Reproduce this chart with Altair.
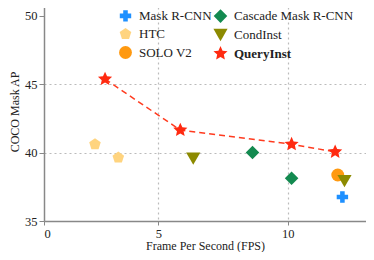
import altair as alt
import pandas as pd

methods = ["Mask R-CNN", "HTC", "SOLO V2", "Cascade Mask R-CNN", "CondInst", "QueryInst"]
colors = ["#1E90FF", "#FFD47F", "#FF9910", "#138A50", "#8C8A00", "#FF2A10"]
sizes = [130, 220, 150, 150, 144, 950]
star = "M0,-1L0.276,-0.38L0.951,-0.309L0.447,0.145L0.588,0.809L0,0.47L-0.588,0.809L-0.447,0.145L-0.951,-0.309L-0.276,-0.38Z"
pentagon = "M0,-1L0.951,-0.309L0.588,0.809L-0.588,0.809L-0.951,-0.309Z"
shapes = ["cross", pentagon, "circle", "diamond", "triangle-down", star]

pt_method = ["HTC", "HTC", "CondInst", "Cascade Mask R-CNN", "Cascade Mask R-CNN",
             "SOLO V2", "CondInst", "Mask R-CNN",
             "QueryInst", "QueryInst", "QueryInst", "QueryInst"]
pt_fps = [2.23, 3.25, 6.35, 8.64, 10.15, 11.93, 12.19, 12.11, 2.67, 5.85, 10.15, 11.83]
pt_ap = [40.61, 39.63, 39.56, 40.0, 38.12, 38.36, 37.92, 36.75, 45.37, 41.64, 40.61, 40.05]

df = pd.DataFrame({"method": pt_method, "fps": pt_fps, "ap": pt_ap, "order": list(range(len(pt_fps)))})
line_df = df[df["method"] == "QueryInst"]

font = "Liberation Serif"
xscale = alt.Scale(domain=[0, 5, 10, 13.02], range=[0, 114.3, 243.7, 322], nice=False)
yscale = alt.Scale(domain=[35, 51], nice=False, zero=False)

xaxis = alt.Axis(values=[0, 5, 10], title="Frame Per Second (FPS)", grid=True,
                 gridDash=[2, 3], gridColor="#bbbbbb", gridWidth=1.2,
                 gridOpacity={"condition": {"test": "datum.value == 0", "value": 0}, "value": 1},
                 domainColor="#888888", domainWidth=1.5, tickColor="#888888", tickSize=4,
                 labelFont=font, labelFontSize=12.5, labelColor="#222", titleFont=font,
                 titleFontSize=12, titleFontWeight="normal", titleColor="#222", labelPadding=2, titlePadding=1)
yaxis = alt.Axis(values=[35, 40, 45, 50], title="COCO Mask AP", grid=True,
                 gridDash=[2, 3], gridColor="#bbbbbb", gridWidth=1.2,
                 gridOpacity={"condition": {"test": "datum.value == 50 || datum.value == 35", "value": 0}, "value": 1},
                 domainColor="#888888", domainWidth=1.5, tickColor="#888888", tickSize=5,
                 labelFont=font, labelFontSize=12.5, labelColor="#222", titleFont=font,
                 titleFontSize=12, titleFontWeight="normal", titleColor="#222", labelPadding=2, titlePadding=3)

line = alt.Chart(line_df).mark_line(color="#FF3B1F", strokeDash=[6, 4], strokeWidth=1.5).encode(
    x=alt.X("fps:Q", scale=xscale, axis=xaxis),
    y=alt.Y("ap:Q", scale=yscale, axis=yaxis),
    order="order:Q",
)

legend = alt.Legend(title=None, orient="none", legendX=73, legendY=6, columns=2,
                    labelFont=font, labelFontSize=13, labelColor="#222", columnPadding=-11,
                    rowPadding=-2, symbolOpacity=1, labelOffset=5,
                    labelFontWeight=alt.ExprRef("datum.label == 'QueryInst' ? 'bold' : 'normal'"))

points = alt.Chart(df).mark_point(filled=True, opacity=1, strokeWidth=0).encode(
    x=alt.X("fps:Q", scale=xscale, axis=xaxis),
    y=alt.Y("ap:Q", scale=yscale, axis=yaxis),
    color=alt.Color("method:N", scale=alt.Scale(domain=methods, range=colors), legend=legend),
    shape=alt.Shape("method:N", scale=alt.Scale(domain=methods, range=shapes), legend=legend),
    size=alt.Size("method:N", scale=alt.Scale(domain=methods, range=sizes), legend=legend),
    order="order:Q",
)

chart = alt.layer(line, points).properties(
    width=322, height=219,
    autosize=alt.AutoSizeParams(type="none"),
    padding={"left": 36, "top": -6, "right": 0, "bottom": 31},
    background="white",
).configure_view(stroke=None)

chart.save("out.html", embed_options={"renderer": "svg", "actions": False})
